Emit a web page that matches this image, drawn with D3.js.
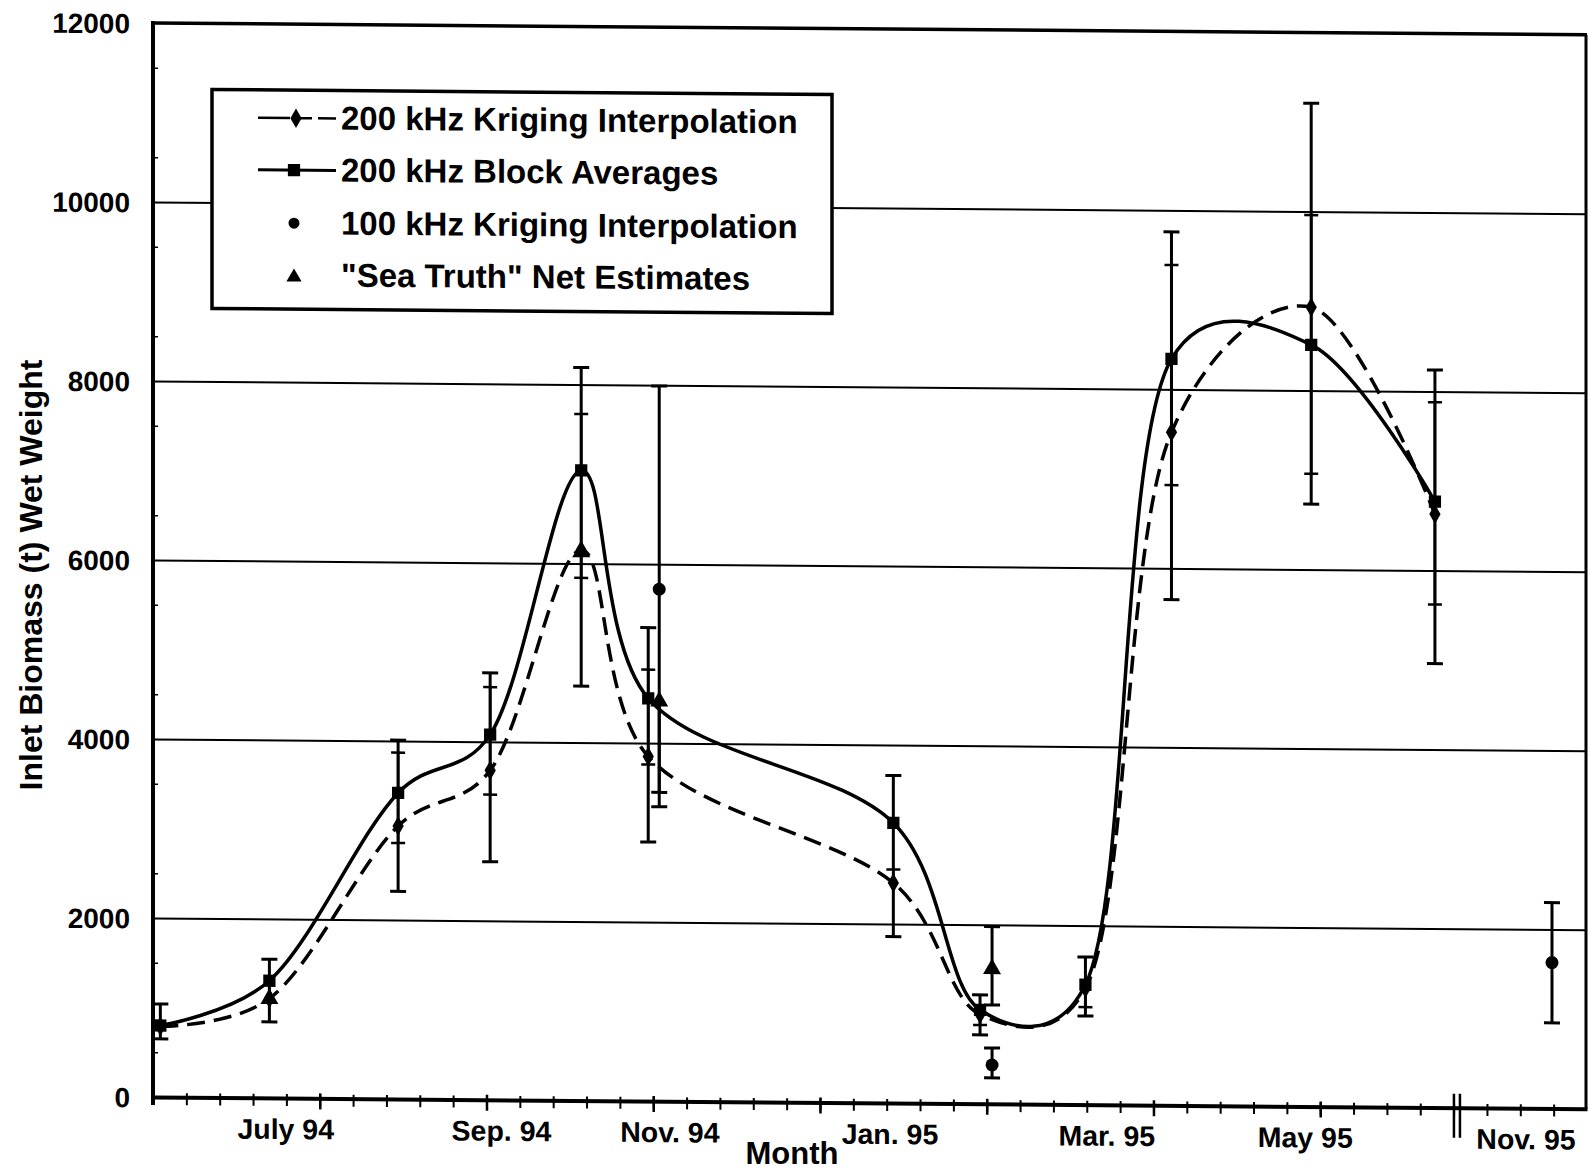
<!DOCTYPE html>
<html>
<head>
<meta charset="utf-8">
<script src="https://cdn.jsdelivr.net/npm/d3@7"></script>
<style>
  body { margin: 0; background: #fff; }
  svg { display: block; }
  text { font-family: "Liberation Sans", Arial, sans-serif; font-weight: bold; fill: #000; }
</style>
</head>
<body>
<svg id="chart" width="1590" height="1171"></svg>
<script>
// survey days counted from the start of the axis (one minor tick = 10 days)
const surveyDays = [2.2, 34.9, 73.5, 101.1, 128.4, 148.5, 222, 248, 279.6, 305.4, 347.3, 384.4]

// 200 kHz block averages with their outer error bars
const blockAvg = [800, 1310, 3420, 4080, 7040, 4500, 3130, 1050, 1340, 8340, 8510, 6770]
const blockLo  = [650, 850, 2320, 2660, 4630, 2895, 1860, 770, 990, 5650, 6730, 4960]
const blockHi  = [1040, 1550, 4010, 4770, 8190, 5290, 3660, 1217, 1650, 9760, 11210, 8240]

// 200 kHz kriging interpolation with the small inner ticks
const kriging = [790, 1110, 3050, 3680, 6150, 3850, 2460, 1000, 1300, 7520, 8930, 6630]
const krigLo  = [null, null, 2860, 3410, 5840, 3760, 2610, 880, 1090, 6930, 7070, 5620]
const krigHi  = [null, null, 3870, 4610, 7670, 4820, null, null, null, 9390, 9960, 7880]

// 100 kHz kriging interpolation
const k100Days = [151.8, 251.6, 419.5]
const k100     = [5720, 435, 1630]
const k100Lo   = [3290, 290, 956]
const k100Hi   = [7990, 625, 2300]

// "Sea Truth" net estimates
const seaDays = [34.9, 128.4, 151.8, 251.6]
const seaVal  = [1130, 6150, 4490, 1530]
const seaLo   = [null, null, 3450, 1105]
const seaHi   = [null, null, null, 1980]

// month labels (axis day of label centre)
const monthLabels = ["July 94", "Sep. 94", "Nov. 94", "Jan. 95", "Mar. 95", "May 95", "Nov. 95"]
const monthDays   = [39.8, 104.5, 155, 221, 286, 345.5, 411.7]

const yTicks = [0, 2000, 4000, 6000, 8000, 10000, 12000]
const breakDay = 391

const legendItems = [
    { label: "200 kHz Kriging Interpolation", type: "krig" },
    { label: "200 kHz Block Averages", type: "block" },
    { label: "100 kHz Kriging Interpolation", type: "k100" },
    { label: "\"Sea Truth\" Net Estimates", type: "sea" }
]

const
    margin = { top: 23, right: 3, bottom: 74, left: 153 },
    width = 1590,
    height = 1171

const x = d3.scaleLinear()
    .domain([0, 430])
    .range([margin.left, width - margin.right])

const y = d3.scaleLinear()
    .domain([0, 12000])
    .range([height - margin.bottom, margin.top])

const svg = d3.select("#chart")

// the scanned figure is slightly skewed; reproduce it
const root = svg.append("g")
    .attr("transform", `translate(${margin.left},0) skewY(0.47) translate(${-margin.left},0)`)

// gridlines
root.append("g")
    .attr("transform", `translate(${margin.left},0)`)
    .call(d3.axisLeft(y).tickValues(yTicks.slice(1, -1)).tickSize(-(x.range()[1] - margin.left)).tickFormat(""))
    .call(g => g.select(".domain").remove())
    .call(g => g.selectAll("line").attr("stroke", "#000").attr("stroke-width", 2))

// minor y ticks every 500
root.append("g")
    .attr("transform", `translate(${margin.left},0)`)
    .call(d3.axisLeft(y).tickValues(d3.range(500, 12000, 1000)).tickSize(-5).tickFormat(""))
    .call(g => g.select(".domain").remove())
    .call(g => g.selectAll("line").attr("stroke", "#000").attr("stroke-width", 1.5))

// y labels
root.append("g")
    .attr("transform", `translate(${margin.left},0)`)
    .call(d3.axisLeft(y).tickValues(yTicks).tickSize(0).tickPadding(23).tickFormat(d3.format("d")))
    .call(g => g.select(".domain").remove())
    .call(g => g.selectAll("text").style("font-size", "28px").attr("dy", "0.36em"))

// frame: top and right
root.append("line")
    .attr("x1", margin.left).attr("x2", x.range()[1])
    .attr("y1", y(12000)).attr("y2", y(12000))
    .attr("stroke", "#000").attr("stroke-width", 3.5)
root.append("line")
    .attr("x1", x.range()[1] - 1).attr("x2", x.range()[1] - 1)
    .attr("y1", y(12000)).attr("y2", y(0))
    .attr("stroke", "#000").attr("stroke-width", 3)

// curves
const curve = d3.curveCatmullRom.alpha(0.25)
const blockPts = surveyDays.map((d, i) => [d, blockAvg[i]])
const krigPts = surveyDays.map((d, i) => [d, kriging[i]])
const line = d3.line().x(d => x(d[0])).y(d => y(d[1])).curve(curve)

root.append("path")
    .attr("d", line(krigPts))
    .attr("fill", "none").attr("stroke", "#000").attr("stroke-width", 3.5)
    .attr("stroke-dasharray", "18,9")
root.append("path")
    .attr("d", line(blockPts))
    .attr("fill", "none").attr("stroke", "#000").attr("stroke-width", 3.5)

// error bars
function errorBar(g, d, lo, hi, v, capW, sw) {
    const a = lo == null ? v : lo
    const b = hi == null ? v : hi
    g.append("line")
        .attr("x1", x(d)).attr("x2", x(d))
        .attr("y1", y(a)).attr("y2", y(b))
        .attr("stroke", "#000").attr("stroke-width", sw)
    ;[lo, hi].forEach(t => {
        if (t == null) return
        g.append("line")
            .attr("x1", x(d) - capW / 2).attr("x2", x(d) + capW / 2)
            .attr("y1", y(t)).attr("y2", y(t))
            .attr("stroke", "#000").attr("stroke-width", sw)
    })
}

const bars = root.append("g")
surveyDays.forEach((d, i) => {
    errorBar(bars, d, blockLo[i], blockHi[i], blockAvg[i], 16, 3)
    errorBar(bars, d, krigLo[i], krigHi[i], kriging[i], 14, 2.5)
})
k100Days.forEach((d, i) => errorBar(bars, d, k100Lo[i], k100Hi[i], k100[i], 16, 3))
seaDays.forEach((d, i) => errorBar(bars, d, seaLo[i], seaHi[i], seaVal[i], 16, 3))

// markers
const sym = {
    block: d3.symbol().type(d3.symbolSquare).size(150),
    krig: d3.symbol().type(d3.symbolDiamond).size(110),
    sea: d3.symbol().type(d3.symbolTriangle).size(140)
}

root.append("g").selectAll("path")
    .data(krigPts)
    .join("path")
    .attr("transform", d => `translate(${x(d[0])},${y(d[1])})`)
    .attr("d", sym.krig())

root.append("g").selectAll("path")
    .data(blockPts)
    .join("path")
    .attr("transform", d => `translate(${x(d[0])},${y(d[1])})`)
    .attr("d", sym.block())

root.append("g").selectAll("circle")
    .data(k100Days.map((d, i) => [d, k100[i]]))
    .join("circle")
    .attr("cx", d => x(d[0])).attr("cy", d => y(d[1]))
    .attr("r", 6.5)

root.append("g").selectAll("path")
    .data(seaDays.map((d, i) => [d, seaVal[i]]))
    .join("path")
    .attr("transform", d => `translate(${x(d[0])},${y(d[1]) + 2})`)
    .attr("d", sym.sea())

// x axis: minor ticks every 10 days, taller ticks every 50
const xAxisG = root.append("g")
    .attr("transform", `translate(0,${y(0)})`)
xAxisG.call(d3.axisBottom(x).tickValues(d3.range(0, 430, 10)).tickSizeInner(8).tickSizeOuter(0).tickFormat(""))
    .call(g => g.select(".domain").attr("stroke-width", 4))
    .call(g => g.selectAll(".tick line").attr("stroke-width", 2).attr("y1", -4))
xAxisG.append("g")
    .call(d3.axisBottom(x).tickValues(d3.range(50, 400, 50)).tickSize(11).tickFormat(""))
    .call(g => g.select(".domain").remove())
    .call(g => g.selectAll(".tick line").attr("stroke-width", 2.5).attr("y1", -5))

// axis break
;[-3, 3].forEach(o => {
    root.append("line")
        .attr("x1", x(breakDay) + o).attr("x2", x(breakDay) + o)
        .attr("y1", y(0) - 14).attr("y2", y(0) + 30)
        .attr("stroke", "#000").attr("stroke-width", 2.5)
})

// left axis
root.append("line")
    .attr("x1", margin.left).attr("x2", margin.left)
    .attr("y1", y(12000) - 2).attr("y2", y(0) + 8)
    .attr("stroke", "#000").attr("stroke-width", 4)

// month labels
root.append("g").selectAll("text")
    .data(monthLabels)
    .join("text")
    .attr("x", (d, i) => x(monthDays[i]))
    .attr("y", 1138)
    .attr("text-anchor", "middle")
    .style("font-size", "28.5px")
    .text(d => d)

// axis titles
svg.append("text")
    .attr("x", 792).attr("y", 1164)
    .attr("text-anchor", "middle")
    .style("font-size", "31px")
    .text("Month")

svg.append("text")
    .attr("transform", "translate(42,575) rotate(-90)")
    .attr("text-anchor", "middle")
    .style("font-size", "32px")
    .text("Inlet Biomass (t) Wet Weight")

// legend
const legend = root.append("g")
    .attr("transform", "translate(0,-3)")
legend.append("rect")
    .attr("x", 212).attr("y", 92)
    .attr("width", 620).attr("height", 219)
    .attr("fill", "#fff").attr("stroke", "#000").attr("stroke-width", 3.5)

const rowY = [120, 172, 225, 277]
legendItems.forEach((it, i) => {
    const cy = rowY[i]
    if (it.type === "krig") {
        legend.append("line").attr("x1", 258).attr("x2", 336).attr("y1", cy).attr("y2", cy)
            .attr("stroke", "#000").attr("stroke-width", 2.5).attr("stroke-dasharray", "32,8,14,6")
        legend.append("path").attr("transform", `translate(296,${cy})`).attr("d", sym.krig())
    } else if (it.type === "block") {
        legend.append("line").attr("x1", 258).attr("x2", 336).attr("y1", cy).attr("y2", cy)
            .attr("stroke", "#000").attr("stroke-width", 3)
        legend.append("path").attr("transform", `translate(294,${cy})`).attr("d", sym.block())
    } else if (it.type === "k100") {
        legend.append("circle").attr("cx", 294).attr("cy", cy).attr("r", 5.5)
    } else {
        legend.append("path").attr("transform", `translate(294,${cy + 2})`)
            .attr("d", d3.symbol().type(d3.symbolTriangle).size(100)())
    }
    legend.append("text")
        .attr("x", 341).attr("y", cy + 11)
        .style("font-size", "33px")
        .text(it.label)
})
</script>
</body>
</html>
